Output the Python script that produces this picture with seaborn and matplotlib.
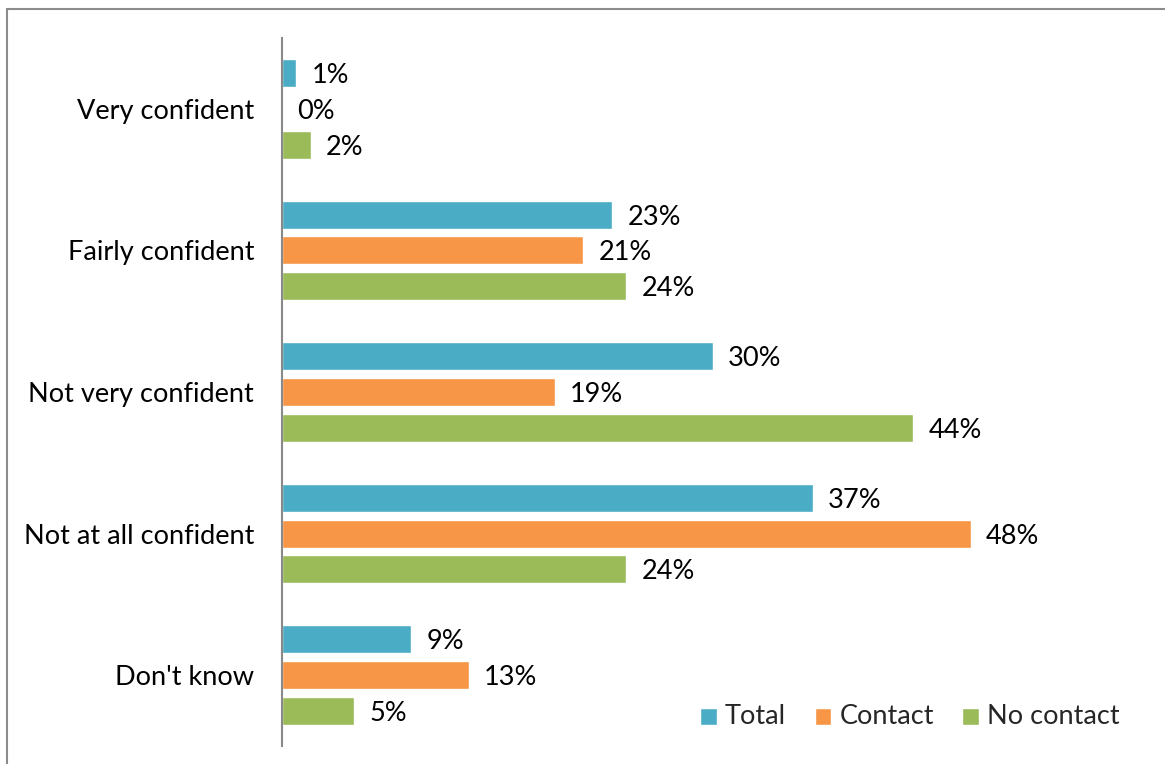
import matplotlib
matplotlib.use("Agg")
import matplotlib.pyplot as plt
from matplotlib.lines import Line2D
import seaborn as sns
import pandas as pd

categories = ["Very confident", "Fairly confident", "Not very confident",
              "Not at all confident", "Don't know"]
series = ["Total", "Contact", "No contact"]
total = [1, 23, 30, 37, 9]
contact = [0, 21, 19, 48, 13]
no_contact = [2, 24, 44, 24, 5]
colors = ["#4BACC6", "#F79646", "#9BBB59"]

rows = []
for name, vals in zip(series, [total, contact, no_contact]):
    for cat, v in zip(categories, vals):
        rows.append({"category": cat, "group": name, "value": v})
df = pd.DataFrame(rows)

sns.set_style("white")
plt.rcParams["font.family"] = ["Lato", "DejaVu Sans"]
FS = 19.5

fig = plt.figure(figsize=(11.65, 7.64), dpi=100)
ax = fig.add_axes([282 / 1165, 18 / 764, 861 / 1165, 708 / 764])

sns.barplot(data=df, y="category", x="value", hue="group", order=categories,
            hue_order=series, palette=colors, orient="h", width=0.76, gap=0.22,
            saturation=1, ax=ax, legend=True, errorbar=None)

for cont in ax.containers:
    texts = ax.bar_label(cont, labels=[f"{int(round(b.get_width()))}%" for b in cont],
                         padding=11, fontsize=FS, color="black")
    for t in texts:
        t.set_va("center_baseline")

ax.set_xlim(0, 60)
ax.set_ylim(4.5, -0.5)
ax.set_xlabel("")
ax.set_ylabel("")
ax.set_xticks([])
ax.tick_params(axis="y", length=0, pad=20, labelsize=FS, labelcolor="black")
for side in ["top", "right", "bottom"]:
    ax.spines[side].set_visible(False)
ax.spines["left"].set_color("#898989")
ax.spines["left"].set_linewidth(1.5)

leg = ax.legend(loc="center right", bbox_to_anchor=(1120 / 1165, 1 - 716 / 764),
                bbox_transform=fig.transFigure, ncol=3, frameon=False,
                fontsize=FS, handlelength=0.62, handleheight=0.85, handletextpad=0.3,
                columnspacing=1.05, borderaxespad=0.0, borderpad=0.0)
for h in leg.legend_handles:
    h.set_height(h.get_width())

# outer frame lines (top and left)
fig.add_artist(Line2D([7 / 1165, 1.0], [1 - 9 / 764, 1 - 9 / 764],
                      transform=fig.transFigure, color="#8c8c8c", linewidth=1.5))
fig.add_artist(Line2D([7 / 1165, 7 / 1165], [0.0, 1 - 9 / 764],
                      transform=fig.transFigure, color="#8c8c8c", linewidth=1.5))

fig.savefig("out.png", dpi=100, facecolor="white")
